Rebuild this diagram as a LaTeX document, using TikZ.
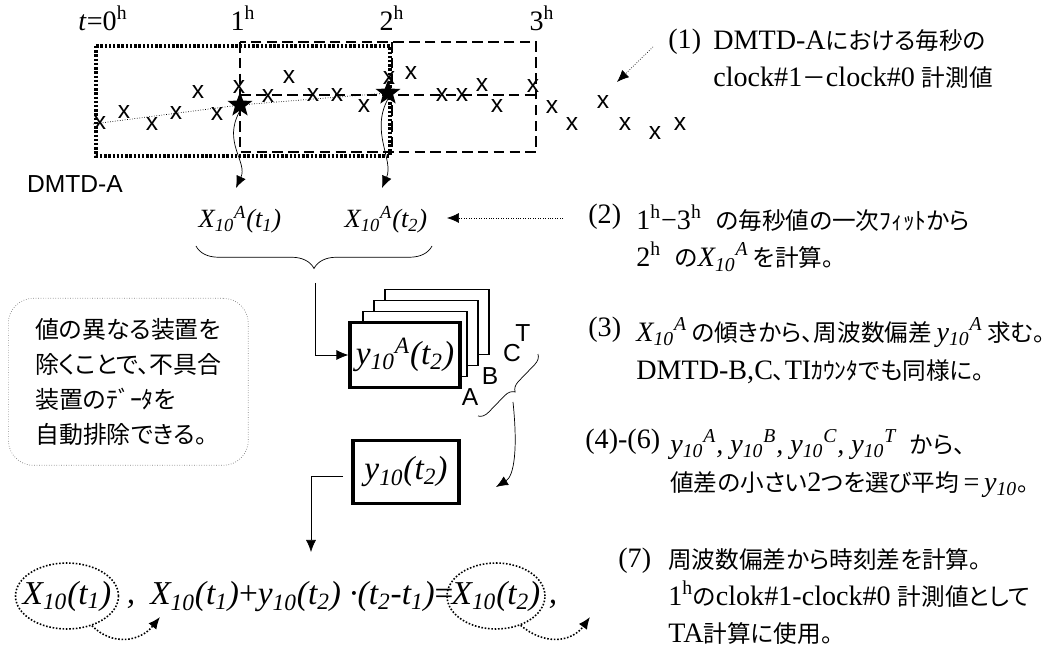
\documentclass[tikz,border=0pt]{standalone}
\usepackage{fontspec}
\setmainfont{Liberation Serif}
\setsansfont{Liberation Sans}
\newfontfamily\jpfont[Scale=0.84,RawFeature=+palt]{Noto Sans CJK JP}
\newcommand\jp[1]{{\jpfont #1}}
\usetikzlibrary{shapes.geometric,arrows.meta,decorations.pathreplacing}

\tikzset{
  xmark/.style={font=\sffamily\fontsize{14}{14}\selectfont, inner sep=0pt},
  hour/.style={font=\fontsize{16}{16}\selectfont, inner sep=0pt},
  note/.style={anchor=north west, align=left, inner sep=0pt, font=\fontsize{16}{21.5}\selectfont},
  mathlbl/.style={font=\itshape\fontsize{15}{15}\selectfont, inner sep=0pt},
  eqtext/.style={font=\itshape\fontsize{19}{19}\selectfont, inner sep=0pt},
  card/.style={draw, fill=white, line width=1.1pt, minimum width=2.08cm, minimum height=1.3cm, font=\itshape\fontsize{19}{19}\selectfont},
  tag/.style={font=\sffamily\fontsize{14}{14}\selectfont, inner sep=0pt},
  pointer/.style={densely dotted, -{Latex[length=2.4mm,width=2mm]}},
  flow/.style={-{Latex[length=2.4mm,width=2mm]}},
  hourstar/.style={star, star points=5, star point ratio=2.4, fill, inner sep=0pt, minimum size=0.52cm},
  ring/.style={ellipse, draw, densely dotted, line width=0.9pt, inner xsep=-0.22cm, inner ysep=-0.15cm, minimum height=1.32cm},
}

\begin{document}
\begin{tikzpicture}[x=0.02cm, y=-0.02cm]
    \useasboundingbox (0,0) rectangle (1063,648);

    % hour marks and windows
    \node[hour] (h0) at (103,18) {\textit{t}=0\textsuperscript{h}};
    \node[hour] (h1) at (243,18) {1\textsuperscript{h}};
    \node[hour] (h2) at (392,18) {2\textsuperscript{h}};
    \node[hour] (h3) at (542,18) {3\textsuperscript{h}};

    \draw[line width=1.8pt, dash pattern=on 1.4pt off 1pt] (96,46) rectangle (390,156);
    \draw[line width=1.6pt, dash pattern=on 6pt off 3pt] (240,42) rectangle (536,152);
    \draw[line width=1.6pt, dash pattern=on 6pt off 3pt] (392,42) -- (392,152);
    \draw[line width=1.6pt, dash pattern=on 6pt off 3pt] (240,95) -- (536,95);

    % per-second readings
    \node[xmark] (x1) at (100,123) {x};
    \node[xmark] (x2) at (124,112) {x};
    \node[xmark] (x3) at (152,124) {x};
    \node[xmark] (x4) at (176,113) {x};
    \node[xmark] (x5) at (198,92) {x};
    \node[xmark] (x6) at (217,114) {x};
    \node[xmark] (x7) at (239,87) {x};
    \node[xmark] (x8) at (268,96) {x};
    \node[xmark] (x9) at (289,77) {x};
    \node[xmark] (x10) at (313,95) {x};
    \node[xmark] (x11) at (337,95) {x};
    \node[xmark] (x12) at (364,106) {x};
    \node[xmark] (x13) at (389,78) {x};
    \node[xmark] (x14) at (411,73) {x};
    \node[xmark] (x15) at (442,95) {x};
    \node[xmark] (x16) at (462,95) {x};
    \node[xmark] (x17) at (482,85) {x};
    \node[xmark] (x18) at (497,106) {x};
    \node[xmark] (x19) at (533,86) {x};
    \node[xmark] (x20) at (552,107) {x};
    \node[xmark] (x21) at (572,124) {x};
    \node[xmark] (x22) at (603,102) {x};
    \node[xmark] (x23) at (625,124) {x};
    \node[xmark] (x24) at (655,133) {x};
    \node[xmark] (x25) at (680,124) {x};

    \node[hourstar] (s1) at (240,105) {};
    \node[hourstar] (s2) at (388,93) {};
    \coordinate (fit0) at (93,124);
    \draw[densely dotted] (fit0) -- (s1.center) -- (s2.center);

    \node[font=\sffamily\fontsize{14}{14}\selectfont, inner sep=0pt] (dmtd) at (75,184) {DMTD-A};

    % values at 1h and 2h
    \coordinate (w1) at (236,188);
    \coordinate (w2) at (382,188);
    \draw[flow] (s1.south) .. controls (222,142) and (248,162) .. (w1);
    \draw[flow] (s2.south) .. controls (370,132) and (394,160) .. (w2);

    \node[mathlbl] (xa1) at (240,220) {X\textsubscript{10}\textsuperscript{A}(t\textsubscript{1})};
    \node[mathlbl] (xa2) at (386,220) {X\textsubscript{10}\textsuperscript{A}(t\textsubscript{2})};

    \draw[decorate, decoration={brace, mirror, amplitude=0.45cm}] (196,246) -- (432,246);
    \coordinate (bt) at (315,283);

    % frequency offsets of the devices
    \node[card] (card4) at (437,322) {};
    \node[card] (card3) at (426,333) {};
    \node[card] (card2) at (415,344) {};
    \node[card, line width=1.8pt, minimum width=2.1cm] (card1) at (405,355) {y\textsubscript{10}\textsuperscript{A}(t\textsubscript{2})};
    \draw[flow] (bt) |- (card1.west);

    \node[tag] (ta) at (470,397) {A};
    \node[tag] (tb) at (490,376) {B};
    \node[tag] (tc) at (512,353) {C};
    \node[tag] (tt) at (523,333) {T};
    \draw[decorate, decoration={brace, mirror, amplitude=0.2cm}] (478,416) -- (538,354);
    \coordinate (bc) at (513,402);

    \node[card, line width=1.8pt, minimum width=2.12cm, minimum height=1.26cm] (ybox) at (406,472) {y\textsubscript{10}(t\textsubscript{2})};
    \coordinate (yb) at (496,487);
    \draw[flow] (bc) .. controls (518,450) and (514,476) .. (yb);

    \coordinate (yl) at (343,476);
    \coordinate (eqtop) at (311,552);
    \draw[flow] (yl) -| (eqtop);

    % memo
    \node[draw=gray, densely dotted, rounded corners=0.5cm, anchor=north west, minimum width=4.8cm, minimum height=3.34cm,
          inner xsep=0.45cm, align=left, font=\fontsize{16.2}{20}\selectfont\jpfont] (memo) at (8,298)
          {値の異なる装置を\\除くことで、不具合\\装置のﾃﾞｰﾀを\\自動排除できる。};

    % time update
    \node[eqtext, ring, minimum width=2.06cm] (ell1) at (67,596) {X\textsubscript{10}(t\textsubscript{1})};
    \node[eqtext] (c1) at (131,604) {,};
    \node[eqtext, anchor=west] (eqmid) at (150,597) {X\textsubscript{10}(t\textsubscript{1})\upshape+\itshape y\textsubscript{10}(t\textsubscript{2}) ·(t\textsubscript{2}-t\textsubscript{1})\upshape=};
    \node[eqtext, ring, minimum width=1.96cm] (ell2) at (496,596) {X\textsubscript{10}(t\textsubscript{2})};
    \node[eqtext] (c2) at (553,604) {,};

    \coordinate (e1) at (160,617);
    \coordinate (e2) at (590,617);
    \draw[pointer, line width=0.9pt] (ell1.-50) .. controls (112,646) and (140,642) .. (e1);
    \draw[pointer, line width=0.9pt] (ell2.-50) .. controls (545,646) and (572,642) .. (e2);

    % steps
    \node[note] (n1) at (668,29) {(1)};
    \node[note] (b1) at (713,29) {DMTD-A\jp{における毎秒の}\\clock\#1\jp{－}clock\#0 \jp{計測値}};
    \coordinate (p1s) at (653,47);
    \coordinate (p1e) at (617,82);
    \draw[pointer] (p1s) -- (p1e);

    \node[note] (n2) at (588,204) {(2)};
    \node[note] (b2) at (636,204) {1\textsuperscript{h}−3\textsuperscript{h}\ \ \jp{の毎秒値の一次ﾌｨｯﾄから}\\
        2\textsuperscript{h}\ \ \jp{の}\textit{X\textsubscript{10}\textsuperscript{A}}\,\jp{を計算。}};
    \coordinate (p2s) at (563,218);
    \coordinate (p2e) at (447,218);
    \draw[pointer] (p2s) -- (p2e);

    \node[note] (n3) at (588,317) {(3)};
    \node[note] (b3) at (636,317) {\textit{X\textsubscript{10}\textsuperscript{A}}\,\jp{の傾きから、周波数偏差}\,\textit{y\textsubscript{10}\textsuperscript{A}}\,\jp{求む。}\\
        DMTD-B,C\jp{、}TI\jp{ｶｳﾝﾀでも同様に。}};

    \node[note] (n4) at (585,429) {(4)-(6)};
    \node[note] (b4) at (670,429) {\textit{y\textsubscript{10}\textsuperscript{A}, y\textsubscript{10}\textsuperscript{B}, y\textsubscript{10}\textsuperscript{C}, y\textsubscript{10}\textsuperscript{T}}\ \ \jp{から、}\\
        \jp{値差の小さい}2\jp{つを選び平均}\,=\,\textit{y\textsubscript{10}}\jp{。}};

    \node[note, font=\fontsize{16}{21}\selectfont] (n7) at (618,548) {(7)};
    \node[note, font=\fontsize{16}{21}\selectfont] (b7) at (668,548) {\jp{周波数偏差から時刻差を計算。}\\
        1\textsuperscript{h}\jp{の}clok\#1-clock\#0 \jp{計測値として}\\
        TA\jp{計算に使用。}};
\end{tikzpicture}
\end{document}
